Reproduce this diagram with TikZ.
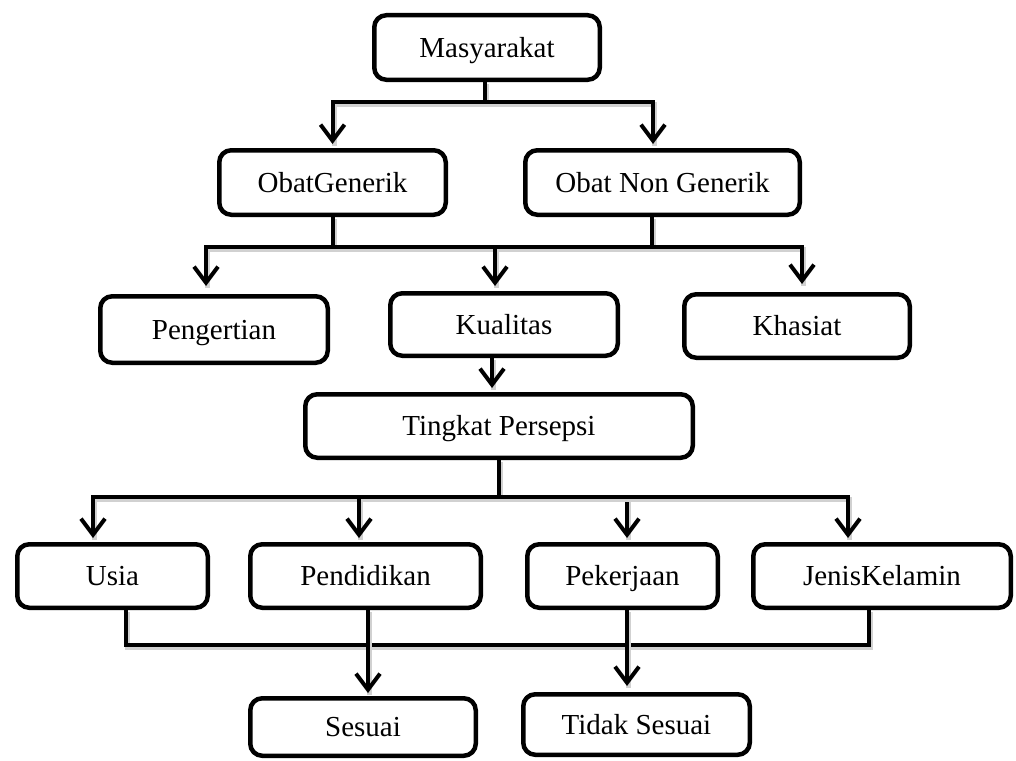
\documentclass[tikz,border=0pt]{standalone}
\usepackage{fontspec}
\setmainfont{Liberation Serif}
\usetikzlibrary{arrows.meta}
\begin{document}
\begin{tikzpicture}[x=1pt,y=-1pt,
  box/.style 2 args={draw, line width=4.5pt, rounded corners=12pt,
    minimum width=#1, minimum height=#2, inner sep=0pt,
    text height=19.5pt, text depth=0.5pt,
    font=\fontsize{29}{31}\selectfont},
  conn/.style={line width=4pt,
    preaction={draw=black!18, line width=5pt, -,
      transform canvas={xshift=1.5pt,yshift=-2pt}}},
  arr/.style={conn, -{Straight Barb[length=16pt,width=24pt]}, shorten >=#1},
  arr/.default=4pt]
\useasboundingbox (0,0) rectangle (1016,760);
% nodes
\node[box={225.5}{64.5}] (mas)  at (487,47.5)    {Masyarakat};
\node[box={226.5}{64.5}] (og)   at (332.5,182.5) {ObatGenerik};
\node[box={274.5}{64.5}] (ong)  at (662.5,182.5) {Obat Non Generik};
\node[box={227.5}{66.5}] (pen)  at (214,329.5)   {Pengertian};
\node[box={227.5}{62.5}] (kual) at (504,324.5)   {Kualitas};
\node[box={225.5}{63.5}] (kha)  at (797,326)     {Khasiat};
\node[box={387.5}{63.5}] (tp)   at (499,426)     {Tingkat Persepsi};
\node[box={190.5}{63.5}] (usia) at (112.5,576)   {Usia};
\node[box={230.5}{63.5}] (pend) at (365.5,576)   {Pendidikan};
\node[box={190.5}{63.5}] (pek)  at (622.5,576)   {Pekerjaan};
\node[box={257.5}{63.5}] (jk)   at (882,576)     {JenisKelamin};
\node[box={225.5}{57.5}] (ses)  at (363,727)     {Sesuai};
\node[box={226.5}{60.5}] (tds)  at (636.5,724.5) {Tidak Sesuai};
% junctions
\coordinate (b1) at (485,102);
\coordinate (b2) at (495,247);
\coordinate (b3) at (499,497);
\coordinate (b4) at (368,645);
\coordinate (b5) at (627,645);
% level 1
\draw[conn] ([xshift=-2pt]mas.south) -- (b1);
\draw[arr=4pt] (b1) -| (og.north);
\draw[arr=4pt] (b1) -| ([xshift=-9.5pt]ong.north);
% level 2
\draw[conn] (og.south) -- (og.south |- b2);
\draw[conn] ([xshift=-10.5pt]ong.south) -- ([xshift=-10.5pt]ong.south |- b2);
\draw[arr=8pt] (b2) -| ([xshift=-8pt]pen.north);
\draw[arr=5pt] (b2) -- ([xshift=-9pt]kual.north);
\draw[arr=8pt] (b2) -| ([xshift=5pt]kha.north);
% Kualitas to Tingkat Persepsi
\draw[arr=4pt] ([xshift=-12pt]kual.south) -- ([xshift=-12pt]kual.south |- tp.north);
% level 3
\draw[conn] (tp.south) -- (b3);
\draw[arr=4pt] (b3) -| ([xshift=-19.5pt]usia.north);
\draw[arr=4pt] (b3) -| ([xshift=-6.5pt]pend.north);
\draw[arr=4pt] (b3) -| ([xshift=4.5pt]pek.north);
\draw[arr=4pt] (b3) -| ([xshift=-34pt]jk.north);
% level 4
\draw[conn] ([xshift=13.5pt]usia.south) |- (b4) -- (b5) -| ([xshift=-13pt]jk.south);
\draw[conn] ([xshift=2.5pt]pend.south) -- (b4);
\draw[conn] ([xshift=4.5pt]pek.south) -- (b5);
\draw[arr=3pt] (b4) -- (b4 |- ses.north);
\draw[arr=6pt] (b5) -- (b5 |- tds.north);
\end{tikzpicture}
\end{document}
